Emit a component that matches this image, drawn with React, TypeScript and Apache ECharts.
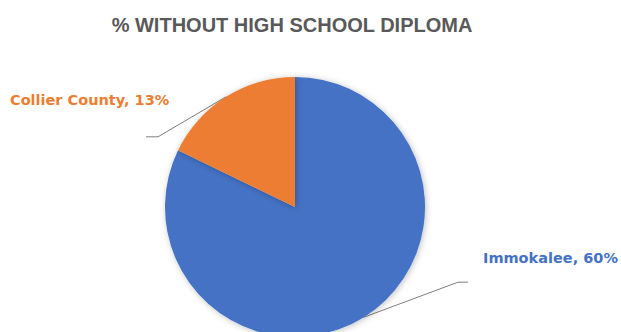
import React, { useEffect, useRef } from "react";
import * as echarts from "echarts";

const categories = ["Immokalee", "Collier County"];
const values = [60, 13];
const colors = ["#4472C4", "#ED7D31"];
const titleText = "% WITHOUT HIGH SCHOOL DIPLOMA";

export default function App() {
  const ref = useRef<HTMLDivElement>(null);
  useEffect(() => {
    if (!ref.current) return;
    const chart = echarts.init(ref.current, undefined, { renderer: "svg" });
    chart.setOption({
      animation: false,
      backgroundColor: "#ffffff",
      title: {
        text: titleText,
        left: 287,
        textAlign: "center",
        top: 10,
        textStyle: {
          fontFamily: "Liberation Sans",
          fontWeight: "bold",
          fontSize: 20,
          color: "#595959",
        },
      },
      series: [
        {
          type: "pie",
          center: [295, 207],
          radius: 130,
          startAngle: 90,
          clockwise: true,
          data: categories.map((c, i) => ({
            name: c,
            value: values[i],
            itemStyle: { color: colors[i] },
            label: { color: colors[i] },
          })),
          itemStyle: {
            borderColor: "#ffffff",
            borderWidth: 0,
            shadowBlur: 6,
            shadowColor: "rgba(0,0,0,0.25)",
            shadowOffsetX: 1,
            shadowOffsetY: 1,
          },
          label: {
            show: true,
            position: "outside",
            formatter: (p: any) => `${p.name}, ${p.value}%`,
            fontFamily: "DejaVu Sans",
            fontWeight: "bold",
            fontSize: 14.5,
          },
          labelLine: {
            show: true,
            length: 20,
            length2: 10,
            lineStyle: { color: "#7f7f7f", width: 1 },
          },
          labelLayout: (p: any) => {
            const s = p.labelLinePoints ? p.labelLinePoints[0] : [0, 0];
            if (p.dataIndex === 1) {
              return {
                x: 10,
                y: 100,
                align: "left",
                verticalAlign: "middle",
                labelLinePoints: [s, [s[0] - 68, s[1] + 40], [s[0] - 80, s[1] + 40]],
              };
            }
            return {
              x: 483,
              y: 258,
              align: "left",
              verticalAlign: "middle",
              labelLinePoints: [s, [s[0] + 94, s[1] - 35], [s[0] + 104, s[1] - 35]],
            };
          },
        },
      ],
    });
    return () => chart.dispose();
  }, []);
  return <div ref={ref} style={{ width: 621, height: 332, position: "absolute", left: 0, top: 0 }} />;
}
